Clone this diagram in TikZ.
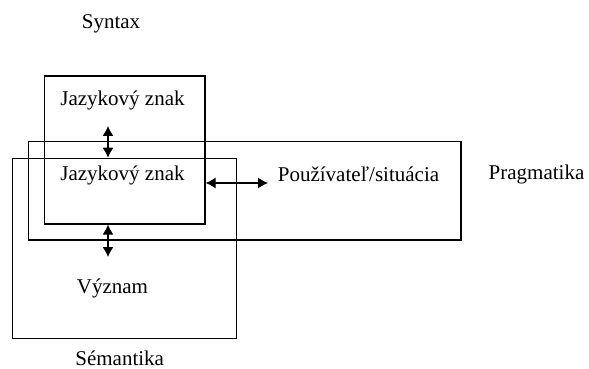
\documentclass[tikz,border=0pt]{standalone}
\usepackage{fontspec}
\setmainfont{Liberation Serif}
\usetikzlibrary{arrows.meta,positioning,calc}

\begin{document}
\begin{tikzpicture}[x=0.5pt,y=-0.5pt,
  frame/.style={draw,line width=0.6pt,inner sep=0pt},
  lbl/.style={font=\fontsize{10.5}{12}\selectfont,inner sep=1pt},
  arr/.style={{Latex[length=5pt,width=5.5pt]}-{Latex[length=5pt,width=5.5pt]},line width=0.6pt}]
  \useasboundingbox (0,0) rectangle (589,369);
  % boxes
  \node[frame,minimum width=80.35pt,minimum height=74pt]   (syntax) at (124.7,150) {};
  \node[frame,minimum width=216.35pt,minimum height=49.15pt] (pragm) at (244.7,190.9) {};
  \node[frame,minimum width=112.2pt,minimum height=90pt]   (seman)  at (124.5,248.3) {};
  % texts
  \node[lbl] (syntaxLbl) at (111,24)    {Syntax};
  \node[lbl] (znakA)     at (122.5,100) {Jazykový znak};
  \node[lbl] (znakB)     at (122.5,175) {Jazykový znak};
  \node[lbl] (vyznam)    at (112.5,288) {Význam};
  \node[lbl] (pouz)      at (358.5,174) {Používateľ/situácia};
  \node[lbl] (pragmLbl)  at (536.5,174) {Pragmatika};
  \node[lbl] (semanLbl)  at (119.7,358) {Sémantika};
  % arrows
  \coordinate (a1) at (108,126);
  \coordinate (a2) at (108,257);
  \coordinate (h1) at (268,183);
  \draw[arr] (a1) -- (a1 |- seman.north);
  \draw[arr] (a2 |- syntax.south) -- (a2);
  \draw[arr] (h1 -| syntax.east) -- (h1);
\end{tikzpicture}
\end{document}
